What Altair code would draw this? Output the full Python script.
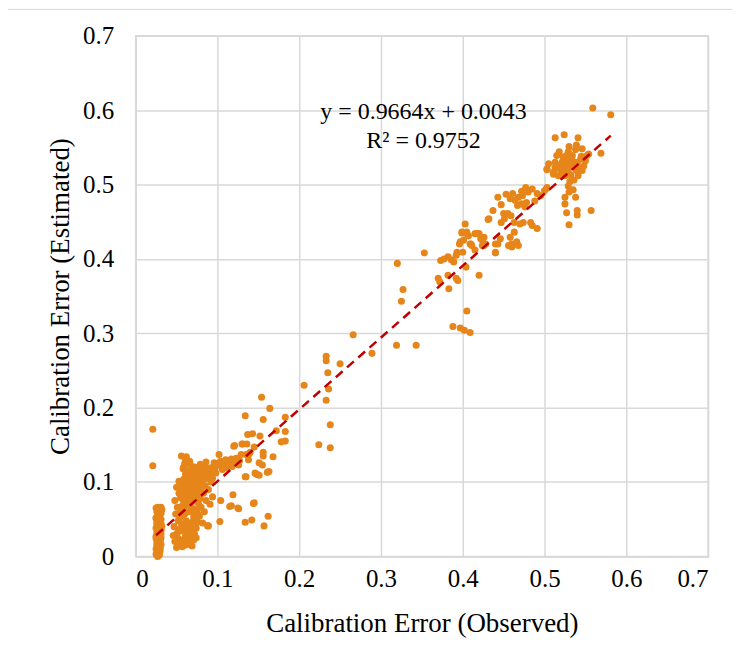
import altair as alt
import pandas as pd

# ---- data ----
strip_x = [0.027,0.029,0.026,0.028,0.030,0.025,0.027,0.029,0.031,0.026,0.028,0.030,0.025,0.027,0.029,0.031,0.026,0.028,0.030,0.025,0.027,0.029,0.031,0.026,0.028,0.030,0.025,0.027,0.029,0.031,0.026,0.028,0.030,0.027,0.031,0.031,0.032,0.031,0.030,0.029,0.032,0.031,0.025,0.021,0.021,
           0.025,0.029,0.026,0.030,0.025,0.028,0.026,0.030,0.025,0.029,0.027,0.031,0.026,0.028]
strip_y = [0.000,0.002,0.004,0.006,0.008,0.010,0.012,0.014,0.016,0.018,0.020,0.022,0.024,0.026,0.028,0.030,0.032,0.034,0.036,0.038,0.040,0.042,0.044,0.046,0.048,0.050,0.052,0.054,0.056,0.058,0.060,0.062,0.064,0.066,0.061,0.050,0.040,0.025,0.012,0.005,0.063,0.066,0.065,0.171,0.122,
           0.003,0.009,0.015,0.021,0.027,0.033,0.039,0.045,0.051,0.055,0.059,0.035,0.043,0.019]

low_x = [0.048,0.050,0.047,0.052,0.049,0.051,0.048,0.053,0.050,0.054,0.053,0.055,0.046,0.052,
         0.057,0.059,0.061,0.058,0.060,0.062,0.057,0.059,0.061,0.058,0.060,0.062,0.057,0.059,0.061,0.058,0.060,0.063,0.064,0.063,0.064,0.063,0.064,0.063,0.064,0.056,0.062,
         0.066,0.068,0.070,0.067,0.069,0.071,0.066,0.068,0.070,0.067,0.069,0.071,0.066,0.068,0.070,0.067,0.072,0.072,0.072,0.069,
         0.074,0.076,0.078,0.075,0.077,0.079,0.074,0.076,0.078,0.075,0.077,0.079,0.080,0.080,0.074,
         0.082,0.084,0.086,0.083,0.085,0.087,0.084,0.088,0.090,0.092,0.089,0.094,0.091,0.089,0.083,0.086,
         0.050,0.055,0.052,0.056,0.054,0.057,0.055,0.056,0.053,
         0.060,0.062,0.060,0.062,0.060,0.062,0.059,0.061,
         0.065,0.067,0.066,0.065,0.067,0.065,0.066,
         0.071,0.073,0.071,0.073,0.071,0.073,0.072,
         0.076,0.078,0.077,0.081,0.082,0.079,0.084,0.087,0.091,0.094,0.097,0.100,0.104,0.108,0.114,0.117,0.121,0.127,0.094]
low_y = [0.020,0.030,0.040,0.048,0.057,0.066,0.075,0.085,0.093,0.015,0.036,0.060,0.028,0.024,
         0.013,0.020,0.027,0.034,0.041,0.048,0.055,0.062,0.069,0.076,0.083,0.090,0.097,0.104,0.111,0.118,0.125,0.016,0.030,0.045,0.060,0.075,0.087,0.100,0.115,0.135,0.134,
         0.018,0.025,0.032,0.039,0.046,0.053,0.060,0.067,0.074,0.081,0.088,0.095,0.102,0.109,0.116,0.123,0.030,0.063,0.105,0.014,
         0.038,0.046,0.054,0.062,0.070,0.078,0.086,0.094,0.102,0.110,0.118,0.124,0.066,0.090,0.025,
         0.045,0.060,0.075,0.085,0.095,0.105,0.112,0.118,0.108,0.100,0.090,0.080,0.070,0.041,0.120,0.127,
         0.012,0.022,0.033,0.044,0.052,0.068,0.079,0.090,0.101,
         0.015,0.038,0.057,0.079,0.095,0.108,0.121,0.129,
         0.024,0.044,0.071,0.085,0.096,0.113,0.128,
         0.022,0.048,0.060,0.077,0.084,0.100,0.120,
         0.057,0.085,0.108,0.098,0.112,0.116,0.104,0.112,0.117,0.112,0.119,0.125,0.128,0.122,0.126,0.131,0.127,0.129,0.105]

mid_x = [0.102,0.110,0.123,0.129,0.135,0.139,0.138,0.126,0.118,0.112,0.106,0.102,0.096,0.092,0.086,0.080,0.090,0.098,
         0.135,0.147,0.151,0.161,0.151,0.134,0.149,0.146,0.163,
         0.154,0.164,0.134,0.156,0.183,0.172,0.183,0.183,0.178,0.137,0.143,0.152,0.131,0.136,0.120,0.156,0.156,0.155,0.168,0.121,0.130,0.140,0.145,
         0.104,0.119,0.117,0.125,0.144,0.162,0.103,0.134,0.142,0.157,0.088,0.115,0.126,0.145]
mid_y = [0.137,0.130,0.132,0.137,0.137,0.138,0.130,0.123,0.121,0.119,0.117,0.123,0.126,0.119,0.117,0.112,0.108,0.112,
         0.107,0.111,0.109,0.113,0.126,0.107,0.110,0.112,0.114,
         0.214,0.199,0.189,0.184,0.187,0.169,0.168,0.155,0.154,0.164,0.165,0.162,0.151,0.151,0.148,0.140,0.135,0.123,0.134,0.149,0.151,0.140,0.147,
         0.075,0.083,0.068,0.065,0.071,0.054,0.047,0.046,0.049,0.041,0.041,0.067,0.064,0.072]

upmid_x = [0.206,0.233,0.233,0.250,0.235,0.236,0.233,0.238,0.224,0.238,0.266,0.289,0.319,0.343,
           0.320,0.353,0.327,0.325,0.388,0.397,0.402,0.409,0.405,0.420,0.383,0.370,0.372,0.382,0.392,0.394,
           0.373,0.377,0.382,0.386,0.389,0.393,0.392,0.400,0.404,
           0.397,0.401,0.405,0.409,0.399,0.420,0.422,0.426,0.440,0.440,0.403,0.399,0.405,0.407,0.418,0.428,0.424,0.396,0.410,0.431]
upmid_y = [0.230,0.269,0.263,0.259,0.247,0.225,0.210,0.177,0.150,0.146,0.298,0.273,0.284,0.284,
           0.394,0.408,0.359,0.343,0.309,0.307,0.304,0.301,0.330,0.378,0.360,0.374,0.369,0.378,0.374,0.371,
           0.398,0.400,0.403,0.399,0.396,0.409,0.405,0.409,0.389,
           0.423,0.425,0.434,0.420,0.436,0.434,0.427,0.429,0.420,0.408,0.447,0.435,0.436,0.431,0.434,0.420,0.418,0.420,0.420,0.453]

high_x = [0.503,0.505,0.511,0.514,0.503,
          0.443,0.453,0.461,0.472,0.477,0.480,0.473,0.491,0.495,0.500,0.464,0.467,0.472,0.478,0.437,0.432,
          0.450,0.455,0.459,0.451,0.447,0.470,0.474,0.483,0.485,0.491,0.463,0.463,0.458,0.460,0.466,0.468,0.456,0.460,
          0.446,0.443,0.440,0.415,0.424,0.426,0.411,0.415,
          0.485,0.468,0.458,0.488,0.476,0.447]
high_y = [0.521,0.528,0.514,0.523,0.496,
          0.483,0.487,0.488,0.491,0.496,0.490,0.485,0.488,0.485,0.492,0.479,0.472,0.474,0.476,0.465,0.454,
          0.461,0.461,0.458,0.454,0.449,0.447,0.449,0.449,0.445,0.441,0.449,0.436,0.429,0.420,0.423,0.418,0.418,0.416,
          0.427,0.420,0.409,0.434,0.425,0.418,0.418,0.412,
          0.494,0.483,0.481,0.478,0.470,0.473]

top_x = [0.559,0.581,0.513,0.524,0.541,0.530,0.539,0.546,0.538,
         0.518,0.515,0.513,0.523,0.527,0.529,0.533,0.535,0.538,0.544,0.548,0.546,0.541,0.539,0.531,0.527,0.552,0.554,
         0.569,0.503,0.511,0.519,0.521,0.525,0.513,0.531,0.529,0.535,0.538,0.530,
         0.525,0.525,0.527,0.540,0.540,0.530,0.557,0.503,
         0.520,0.524,0.528,0.532,0.536,0.540,0.543,0.534,0.529,0.522,0.545,0.550,0.517,0.536]
top_y = [0.603,0.594,0.563,0.567,0.563,0.551,0.553,0.548,0.547,
         0.544,0.539,0.530,0.537,0.539,0.532,0.534,0.528,0.530,0.534,0.525,0.519,0.512,0.519,0.523,0.528,0.539,0.541,
         0.542,0.520,0.517,0.521,0.516,0.512,0.523,0.504,0.498,0.493,0.483,0.490,
         0.483,0.474,0.462,0.465,0.459,0.446,0.465,0.495,
         0.527,0.522,0.518,0.513,0.524,0.528,0.522,0.539,0.544,0.531,0.538,0.532,0.512,0.506]

slope = 0.9664
intercept = 0.0043
eq_lines = ["y = 0.9664x + 0.0043", "R² = 0.9752"]
eq_x = [0.352, 0.352]
eq_y = [0.597, 0.558]

xs = strip_x + low_x + mid_x + upmid_x + high_x + top_x
ys = strip_y + low_y + mid_y + upmid_y + high_y + top_y
df = pd.DataFrame({"obs": xs, "est": ys})

x0, x1 = 0.025, max(xs)
trend = pd.DataFrame({"obs": [x0, x1], "est": [slope * x0 + intercept, slope * x1 + intercept]})
eq = pd.DataFrame({"obs": eq_x, "est": eq_y, "label": eq_lines})

FONT = "Liberation Serif"
ticks = [0, 0.1, 0.2, 0.3, 0.4, 0.5, 0.6, 0.7]

xenc = alt.X("obs:Q", scale=alt.Scale(domain=[0, 0.7], nice=False, zero=False),
             axis=alt.Axis(values=ticks, format="~g", title="Calibration Error (Observed)",
                           grid=True, ticks=False, labelPadding=10, titlePadding=19))
yenc = alt.Y("est:Q", scale=alt.Scale(domain=[0, 0.7], nice=False, zero=False),
             axis=alt.Axis(values=ticks, format="~g", title="Calibration Error (Estimated)",
                           grid=True, ticks=False, labelPadding=22, titlePadding=8))

border = alt.Chart(pd.DataFrame({"k": [0]})).mark_rect(
    fill=None, stroke="#D9D9D9", strokeWidth=1, clip=False
).encode(x=alt.value(-128.5), x2=alt.value(700), y=alt.value(-26.5), y2=alt.value(700))

points = alt.Chart(df).mark_circle(size=50, opacity=1, color="#E6861A").encode(x=xenc, y=yenc)

line = alt.Chart(trend).mark_line(color="#C00000", strokeDash=[9, 6], strokeWidth=2.5).encode(
    x="obs:Q", y="est:Q")

text = alt.Chart(eq).mark_text(font=FONT, fontSize=24, color="#000000", align="center",
                               baseline="middle").encode(x="obs:Q", y="est:Q", text="label:N")

chart = alt.layer(border, points, line, text).properties(
    width=574, height=522,
    padding={"left": 128, "top": 27, "right": 24, "bottom": 103},
    autosize=alt.AutoSizeParams(type="none"),
).configure_view(stroke="#D9D9D9", strokeWidth=1.5).configure_axis(
    gridColor="#D9D9D9", gridWidth=1.5, domainColor="#D9D9D9", domainWidth=1.5,
    labelFont=FONT, labelFontSize=25, labelColor="#000000",
    titleFont=FONT, titleFontSize=27, titleColor="#000000", titleFontWeight="normal",
)

chart.save("out.html", embed_options={"renderer": "svg", "actions": False})
